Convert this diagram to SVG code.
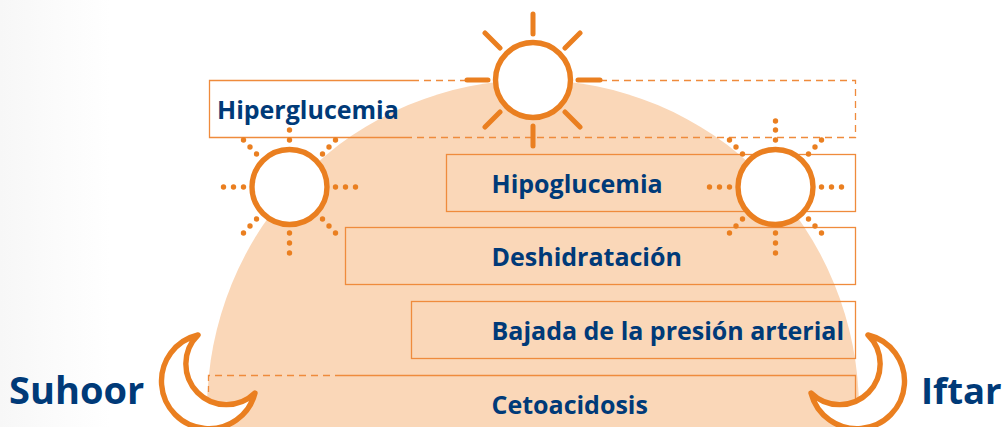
<svg xmlns="http://www.w3.org/2000/svg" width="1005" height="427" viewBox="0 0 1005 427">
<defs>
<linearGradient id="bgFade" x1="0" y1="0" x2="1" y2="0"><stop offset="0" stop-color="#f7f7f7"/><stop offset="1" stop-color="#ffffff"/></linearGradient>
<g id="dotRays"><circle cx="0" cy="-47" r="2.7"/><circle cx="0" cy="-57" r="2.7"/><circle cx="-33" cy="-33" r="2.7"/><circle cx="-39.500" cy="-40" r="2.7"/><circle cx="-46" cy="-47" r="2.7"/><circle cx="33" cy="-33" r="2.7"/><circle cx="39.500" cy="-40" r="2.7"/><circle cx="46" cy="-47" r="2.7"/><circle cx="-46" cy="0" r="2.7"/><circle cx="-56" cy="0" r="2.7"/><circle cx="-66" cy="0" r="2.7"/><circle cx="46" cy="0" r="2.7"/><circle cx="56" cy="0" r="2.7"/><circle cx="66" cy="0" r="2.7"/><circle cx="0" cy="46" r="2.7"/><circle cx="0" cy="56" r="2.7"/><circle cx="0" cy="66" r="2.7"/><circle cx="-33" cy="32" r="2.7"/><circle cx="-39.500" cy="39" r="2.7"/><circle cx="-46" cy="46" r="2.7"/><circle cx="33" cy="32" r="2.7"/><circle cx="39.500" cy="39" r="2.7"/><circle cx="46" cy="46" r="2.7"/></g>
</defs>
<style>
.box{fill:none;stroke:#ef8b3c;stroke-width:1.300}
.dash{fill:none;stroke:#ef8b3c;stroke-width:1.300;stroke-dasharray:7 5}
.disc{fill:#fff;stroke:#ea7f20;stroke-width:5.400}
.ray{fill:none;stroke:#ea7f20;stroke-width:5;stroke-linecap:round}
.dots{fill:#ea7f20}
.moon{fill:#fff;stroke:#ea7f20;stroke-width:5.400;stroke-linejoin:round}
text{font-family:"Open Sans","Noto Sans","Liberation Sans",sans-serif;font-weight:700;fill:#003a78}
.lab{font-size:25px}
.big{font-size:38px}
.big2{font-size:36.500px}
</style>
<rect id="background" x="0" y="0" width="110" height="427" fill="url(#bgFade)"/>
<ellipse id="arch" cx="533" cy="410" rx="326" ry="330" fill="#fad7b8"/>
<g id="hiperglucemia"><path class="box" d="M412,80.500H209.500V137.500H412"/><path class="dash" d="M412,80.500H470M600,80.500H855.500V137.500H412"/><text class="lab" x="217" y="118.500">Hiperglucemia</text></g>
<g id="hipoglucemia"><rect class="box" x="446.500" y="154.500" width="409" height="57"/><text class="lab" x="491.500" y="192.500">Hipoglucemia</text></g>
<g id="deshidratacion"><rect class="box" x="345.500" y="227.500" width="510" height="57"/><text class="lab" x="491.500" y="266">Deshidratación</text></g>
<g id="bajada"><rect class="box" x="411.500" y="301.500" width="444" height="57"/><text class="lab" x="491.500" y="339.500">Bajada de la presión arterial</text></g>
<g id="cetoacidosis"><path class="box" d="M342,375.500H855.500V430"/><path class="dash" d="M342,375.500H208.500V392"/><text class="lab" x="491.500" y="414">Cetoacidosis</text></g>
<g id="sun-noon"><path class="ray" d="M533,14V34M533,126V146M467,80H488M578,80H600M485,33L500,48M580,33L565,48M500,112L485,127M565,112L580,127"/><circle class="disc" cx="533" cy="80" r="37.500"/></g>
<g id="sun-morning"><use href="#dotRays" class="dots" x="289.500" y="187"/><circle class="disc" cx="289.500" cy="187" r="37.500"/></g>
<g id="sun-evening"><use href="#dotRays" class="dots" x="775.500" y="187"/><circle class="dots" cx="775.500" cy="121" r="2.700"/><circle class="disc" cx="775.500" cy="187" r="37.500"/></g>
<g id="moon-suhoor"><path class="moon" d="M198,335A47.500,47.500 0 1 0 255,393A40,40 0 0 1 198,335Z"/><text class="big" x="9" y="404">Suhoor</text></g>
<g id="moon-iftar"><path class="moon" d="M868,335A47.500,47.500 0 1 1 811,393A40,40 0 0 0 868,335Z"/><text class="big2" x="921" y="404">Iftar</text></g>
</svg>
